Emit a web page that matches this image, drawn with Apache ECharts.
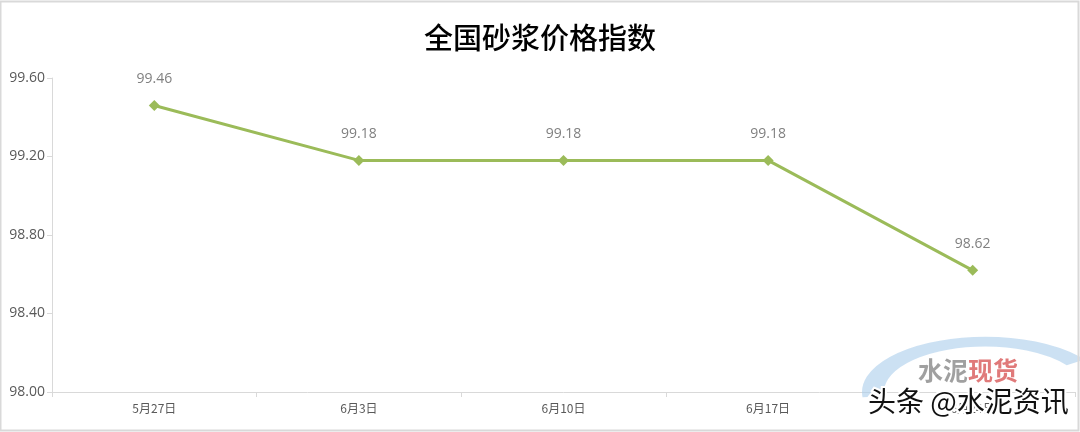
<!DOCTYPE html>
<html><head><meta charset="utf-8">
<script src="https://cdn.jsdelivr.net/npm/echarts@6/dist/echarts.min.js"></script>
<style>html,body{margin:0;padding:0;background:#fff}#c{width:1080px;height:432px}</style>
</head><body><div id="c"></div>
<script>
const categories = ['5月27日','6月3日','6月10日','6月17日','6月24日'];
const values = [99.46, 99.18, 99.18, 99.18, 98.62];
const yTicks = [98.00, 98.40, 98.80, 99.20, 99.60];

const chart = echarts.init(document.getElementById('c'));
chart.setOption({
  animation:false,
  backgroundColor:'#fff',
  title:{text:'全国砂浆价格指数',left:'center',top:18,
    textStyle:{fontFamily:'Noto Sans CJK SC',fontSize:29,fontWeight:500,color:'#000'}},
  grid:{left:52,right:5,top:78,bottom:40},
  xAxis:{type:'category',data:categories,boundaryGap:true,
    axisLine:{lineStyle:{color:'#d9d9d9',width:1}},
    axisTick:{show:true,length:5,lineStyle:{color:'#d9d9d9'}},
    axisLabel:{color:'#595959',fontSize:12,margin:10,fontFamily:'Noto Sans CJK SC'}},
  yAxis:{type:'value',min:yTicks[0],max:yTicks[yTicks.length-1],interval:0.4,
    axisLine:{show:true,lineStyle:{color:'#d9d9d9'}},
    axisTick:{show:true,length:5,lineStyle:{color:'#d9d9d9'}},
    splitLine:{show:false},
    axisLabel:{color:'#595959',fontSize:14,margin:7,formatter:v=>v.toFixed(2),fontFamily:'Open Sans'}},
  series:[{type:'line',data:values,symbol:'diamond',symbolSize:11,
    lineStyle:{color:'#9BBB59',width:3},itemStyle:{color:'#9BBB59'},
    label:{show:true,position:'top',distance:14,color:'#808080',fontSize:14,fontFamily:'Open Sans',
      formatter:p=>p.value.toFixed(2)}}],
  graphic:[
    {type:'rect',shape:{x:0.5,y:1.5,width:1078,height:429},style:{fill:'none',stroke:'#d9d9d9',lineWidth:2},silent:true,z:100},
    {type:'arc',x:985,y:392,scaleY:0.45,shape:{cx:0,cy:0,r:112,startAngle:Math.PI*0.97,endAngle:Math.PI*1.8,clockwise:true},
      style:{fill:'none',stroke:'rgba(170,205,235,0.6)',lineWidth:22},z:90},
    {type:'text',left:918,top:358,style:{text:'水泥',fill:'#a0a0a0',font:'bold 25px "Noto Sans CJK SC"'},z:91},
    {type:'text',left:968,top:358,style:{text:'现货',fill:'#e07a7a',font:'bold 25px "Noto Sans CJK SC"'},z:91},
    {type:'text',left:866,top:385,style:{text:'头条 @水泥资讯',fill:'#111',font:'28px "Noto Sans CJK SC"',stroke:'#fff',lineWidth:4},z:95}
  ]
});
</script></body></html>
